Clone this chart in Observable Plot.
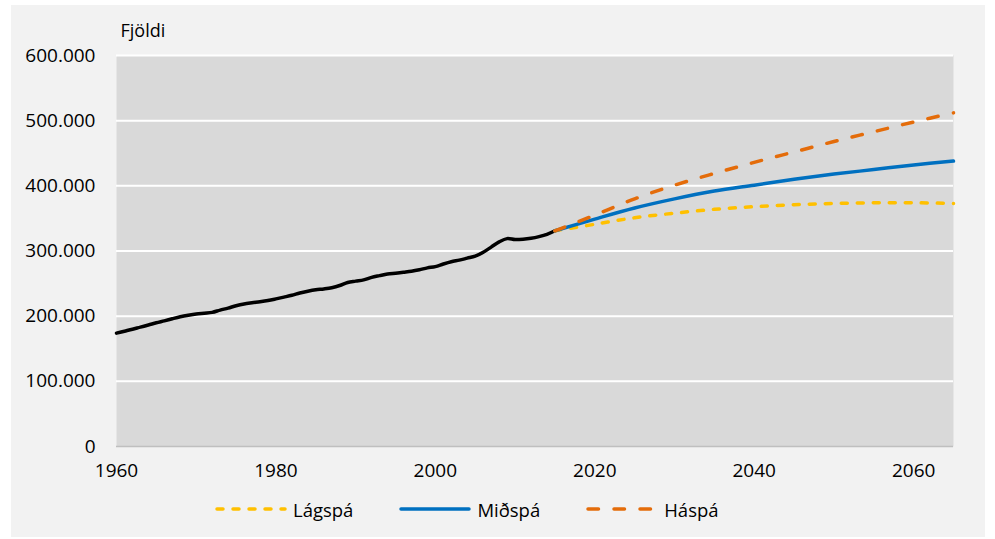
<!DOCTYPE html>
<html><head><meta charset="utf-8">
<script src="https://cdn.jsdelivr.net/npm/d3@7"></script>
<script src="https://cdn.jsdelivr.net/npm/@observablehq/plot@0.6"></script>
<style>
body{margin:0;background:#fff;font-family:"Open Sans",sans-serif;}
#chart{position:absolute;left:11px;top:5px;width:974px;height:532px;background:#f2f2f2;overflow:hidden;}
#legend{position:absolute;left:204px;top:489px;height:30px;display:flex;align-items:center;font-size:18.5px;color:#000;}
.item{display:flex;align-items:center;margin-right:46px;}
.item svg{margin-right:6px;display:block;}
</style></head><body><div id="chart"></div>
<script>
// Historical population (Fjöldi)
const histYears = [1960,1961,1962,1963,1964,1965,1966,1967,1968,1969,1970,1971,1972,1973,1974,1975,1976,1977,1978,1979,1980,1981,1982,1983,1984,1985,1986,1987,1988,1989,1990,1991,1992,1993,1994,1995,1996,1997,1998,1999,2000,2001,2002,2003,2004,2005,2006,2007,2008,2009,2010,2011,2012,2013,2014,2015];
const histValues = [173900,176900,179900,183200,186400,189800,192800,196000,199000,201400,203400,204600,205800,209300,212400,216000,218700,220500,222100,224000,226500,229200,232000,235500,238200,240400,241800,243700,247000,251700,253800,255700,259600,262200,264600,266000,267400,268900,271200,274100,276000,280000,283500,286000,289000,292000,298000,306000,314000,319000,317500,318000,319500,322000,325500,331000];
// Projections
const projYears = [2015,2020,2025,2030,2035,2040,2045,2050,2055,2060,2065];
const lowValues  = [331000,341000,351000,358000,364000,368000,371000,373000,374000,374000,373000];
const midValues  = [331000,349000,366000,380000,392000,401000,410000,418000,425000,432000,438000];
const highValues = [331000,355000,380000,401000,419000,436000,452000,468000,483000,498000,512000];
const seriesNames = ["Lágspá","Miðspá","Háspá"];
const xTicks = [1960,1980,2000,2020,2040,2060];
const yTicks = [0,100000,200000,300000,400000,500000,600000];
const yLabel = "Fjöldi";

const hist = histYears.map((year,i)=>({year, value:histValues[i]}));
const mk = arr => projYears.map((year,i)=>({year, value:arr[i]}));
const low = mk(lowValues), mid = mk(midValues), high = mk(highValues);

const fmt = d => d === 0 ? "0" : d3.format(",")(d).replace(/,/g,".");
const FONT = "'Open Sans', sans-serif";

const styles = {
  "Lágspá": {stroke:"#ffc000", strokeWidth:3.5, strokeDasharray:"6,10", strokeLinecap:"round"},
  "Miðspá": {stroke:"#0070c0", strokeWidth:3.5},
  "Háspá":  {stroke:"#e46c0a", strokeWidth:3.5, strokeDasharray:"10.5,15.5", strokeLinecap:"round"}
};

const chart = Plot.plot({
  width:974, height:480,
  marginLeft:105, marginRight:32, marginTop:50, marginBottom:39,
  style:{background:"transparent", fontFamily:FONT, fontSize:"19px", color:"#000", overflow:"visible"},
  x:{domain:[1960,2065], label:null},
  y:{domain:[0,600000], label:null},
  marks:[
    Plot.frame({fill:"#d9d9d9", stroke:null}),
    Plot.gridY(yTicks.filter(d=>d>0), {stroke:"#fff", strokeOpacity:1, strokeWidth:2}),
    Plot.ruleY([0], {stroke:"#bfbfbf", strokeWidth:1.5}),
    Plot.axisY(yTicks, {tickSize:0, tickPadding:21, tickFormat:fmt, fontSize:19, fill:"#000", label:null}),
    Plot.axisX(xTicks, {tickSize:0, tickPadding:17, tickFormat:d=>String(d), fontSize:19, fill:"#000", label:null}),
    Plot.line(hist, {x:"year", y:"value", stroke:"#000", strokeWidth:3.5, curve:"catmull-rom"}),
    Plot.line(low,  {x:"year", y:"value", ...styles["Lágspá"], curve:"catmull-rom"}),
    Plot.line(mid,  {x:"year", y:"value", ...styles["Miðspá"], curve:"catmull-rom"}),
    Plot.line(high, {x:"year", y:"value", ...styles["Háspá"], curve:"catmull-rom"}),
    Plot.text([yLabel], {frameAnchor:"top-left", textAnchor:"start", lineAnchor:"middle", dx:4, dy:-24, fontSize:18, fill:"#000"})
  ]
});
const container = document.getElementById("chart");
container.appendChild(chart);

const legend = document.createElement("div");
legend.id = "legend";
seriesNames.forEach(name=>{
  const s = styles[name];
  const item = document.createElement("div");
  item.className = "item";
  item.innerHTML = `<svg width="72" height="10"><line x1="2" y1="5" x2="70" y2="5" stroke="${s.stroke}" stroke-width="${s.strokeWidth}" ${s.strokeDasharray?`stroke-dasharray="${s.strokeDasharray}"`:""} stroke-linecap="round"/></svg><span>${name}</span>`;
  legend.appendChild(item);
});
container.appendChild(legend);
</script></body></html>
